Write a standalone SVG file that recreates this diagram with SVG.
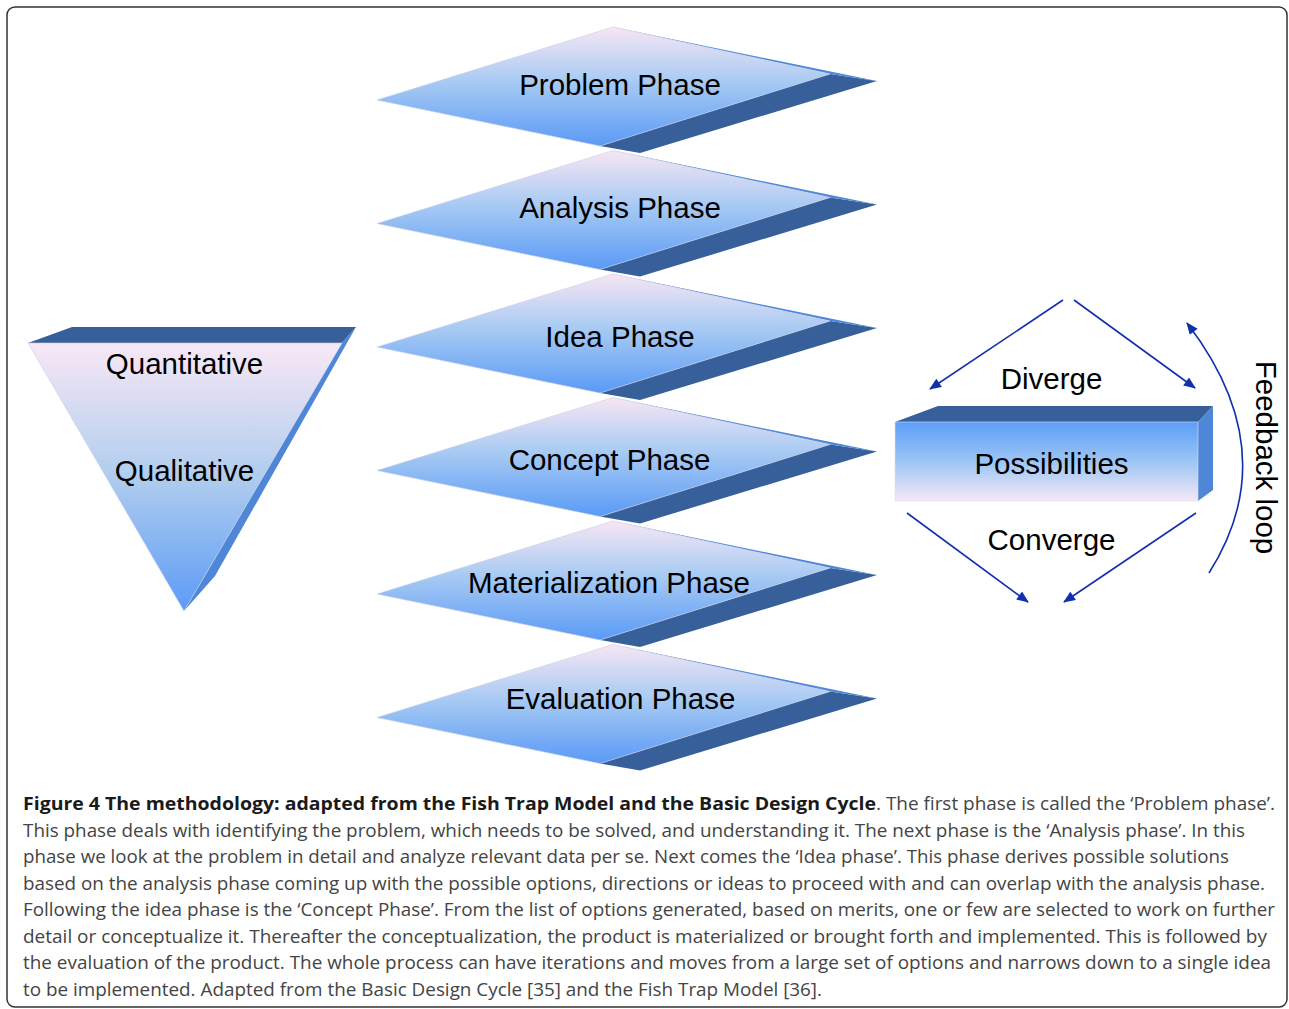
<svg xmlns="http://www.w3.org/2000/svg" width="1289" height="1009" viewBox="0 0 1289 1009">
<style>
.lbl{font-family:"Liberation Sans",Arial,sans-serif;font-size:29.5px;fill:#000;text-anchor:middle}
.cap{font-family:"Open Sans","Noto Sans",sans-serif;font-size:18px;fill:#444}
.capb{font-family:"Open Sans","Noto Sans",sans-serif;font-size:18px;font-weight:bold;fill:#1a1a1a}
.conn{fill:none;stroke:#1030b0;stroke-width:1.6;marker-end:url(#ah)}
</style>
<defs>
<linearGradient id="gDiam" x1="0" y1="0" x2="0" y2="1">
<stop offset="0" stop-color="#f7e6f3"/>
<stop offset="0.45" stop-color="#a9cbf3"/>
<stop offset="1" stop-color="#5a9af6"/>
</linearGradient>
<linearGradient id="gTri" x1="0" y1="0" x2="0" y2="1">
<stop offset="0" stop-color="#f8e8f6"/>
<stop offset="0.5" stop-color="#b0cdee"/>
<stop offset="1" stop-color="#5b9bf6"/>
</linearGradient>
<linearGradient id="gBox" x1="0" y1="0" x2="0" y2="1">
<stop offset="0" stop-color="#5c9ef7"/>
<stop offset="0.5" stop-color="#9cc5f5"/>
<stop offset="1" stop-color="#f5e8f5"/>
</linearGradient>
<marker id="ah" viewBox="0 0 12 10" refX="11" refY="5" markerWidth="13" markerHeight="10" markerUnits="userSpaceOnUse" orient="auto">
<path d="M0,0 L12,5 L0,10 Z" fill="#1030b0"/>
</marker>
<g id="diamond">
<polygon points="830,74 877,81 640,153 600,146" fill="#375f9a"/>
<polygon points="613,27 877,81 830,74" fill="#4d88dc"/>
<polygon points="613,27 830,74 600,146 377,100" fill="url(#gDiam)" stroke="#c9cfe6" stroke-width="0.6"/>
</g>
</defs>
<rect x="7" y="7" width="1280" height="1000" rx="8" fill="#fff" stroke="#333" stroke-width="1.5"/>

<g id="problem-phase">
<use href="#diamond"/>
<text class="lbl" x="620" y="94.5">Problem Phase</text>
</g>
<g id="analysis-phase">
<use href="#diamond" transform="translate(0,123.5)"/>
<text class="lbl" x="620" y="217.5">Analysis Phase</text>
</g>
<g id="idea-phase">
<use href="#diamond" transform="translate(0,247)"/>
<text class="lbl" x="620" y="346.5">Idea Phase</text>
</g>
<g id="concept-phase">
<use href="#diamond" transform="translate(0,370.5)"/>
<text class="lbl" x="609.5" y="469.5">Concept Phase</text>
</g>
<g id="materialization-phase">
<use href="#diamond" transform="translate(0,494)"/>
<text class="lbl" x="609" y="592.5">Materialization Phase</text>
</g>
<g id="evaluation-phase">
<use href="#diamond" transform="translate(0,617.5)"/>
<text class="lbl" x="620.5" y="708.5">Evaluation Phase</text>
</g>

<g id="funnel">
<polygon points="28,343 72,327 356,327 342,343" fill="#375f9a"/>
<polygon points="342,343 356,327 215,576 184,611" fill="#4f86d8"/>
<polygon points="28,343 342,343 184,611" fill="url(#gTri)" stroke="#c9cfe6" stroke-width="0.6"/>
<text class="lbl" x="184.5" y="373.5">Quantitative</text>
<text class="lbl" x="184.5" y="480.5">Qualitative</text>
</g>

<g id="possibilities">
<polygon points="895,422 938,406 1213,406 1198,422" fill="#375f9a"/>
<polygon points="1198,422 1213,406 1213,490 1198,501" fill="#4f86d8"/>
<rect x="895" y="422" width="303" height="79" fill="url(#gBox)" stroke="#dde2f0" stroke-width="0.6"/>
<text class="lbl" x="1051.5" y="473.5">Possibilities</text>
</g>

<g id="connectors">
<line class="conn" x1="1063" y1="300" x2="930" y2="389"/>
<line class="conn" x1="1074" y1="300" x2="1195" y2="388"/>
<line class="conn" x1="907" y1="513" x2="1028" y2="602"/>
<line class="conn" x1="1196" y1="513" x2="1064" y2="602"/>
<path class="conn" d="M1209,573 Q1286,452 1187,323"/>
</g>

<g id="labels">
<text class="lbl" x="1051.5" y="388.5">Diverge</text>
<text class="lbl" x="1051.5" y="549.5">Converge</text>
<text class="lbl" transform="translate(1256,457.5) rotate(90)">Feedback loop</text>
</g>

<g id="caption">
<text class="capb" x="23" y="810" textLength="853" lengthAdjust="spacingAndGlyphs">Figure 4 The methodology: adapted from the Fish Trap Model and the Basic Design Cycle</text>
<text class="cap" x="876" y="810" textLength="399" lengthAdjust="spacingAndGlyphs">. The first phase is called the ‘Problem phase’.</text>
<text class="cap" x="23" y="836.5" textLength="1222" lengthAdjust="spacingAndGlyphs">This phase deals with identifying the problem, which needs to be solved, and understanding it. The next phase is the ‘Analysis phase’. In this</text>
<text class="cap" x="23" y="863" textLength="1206" lengthAdjust="spacingAndGlyphs">phase we look at the problem in detail and analyze relevant data per se. Next comes the ‘Idea phase’. This phase derives possible solutions</text>
<text class="cap" x="23" y="889.5" textLength="1242" lengthAdjust="spacingAndGlyphs">based on the analysis phase coming up with the possible options, directions or ideas to proceed with and can overlap with the analysis phase.</text>
<text class="cap" x="23" y="916" textLength="1252" lengthAdjust="spacingAndGlyphs">Following the idea phase is the ‘Concept Phase’. From the list of options generated, based on merits, one or few are selected to work on further</text>
<text class="cap" x="23" y="942.5" textLength="1244" lengthAdjust="spacingAndGlyphs">detail or conceptualize it. Thereafter the conceptualization, the product is materialized or brought forth and implemented. This is followed by</text>
<text class="cap" x="23" y="969" textLength="1248" lengthAdjust="spacingAndGlyphs">the evaluation of the product. The whole process can have iterations and moves from a large set of options and narrows down to a single idea</text>
<text class="cap" x="23" y="995.5" textLength="799" lengthAdjust="spacingAndGlyphs">to be implemented. Adapted from the Basic Design Cycle [35] and the Fish Trap Model [36].</text>
</g>
</svg>
